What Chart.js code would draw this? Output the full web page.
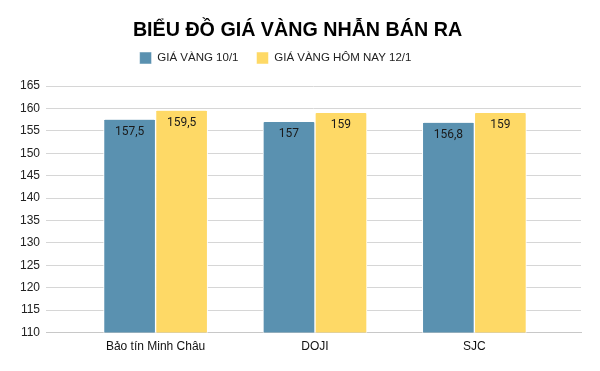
<!DOCTYPE html>
<html>
<head>
<meta charset="utf-8">
<script src="https://cdn.jsdelivr.net/npm/chart.js@4/dist/chart.umd.min.js"></script>
<style>
  html, body { margin: 0; padding: 0; background: #fff; }
  #wrap { width: 600px; height: 371px; }
</style>
</head>
<body>
<div id="wrap"><canvas id="myChart"></canvas></div>
<script>
const categories = ["Bảo tín Minh Châu", "DOJI", "SJC"];
const seriesNames = ["GIÁ VÀNG 10/1", "GIÁ VÀNG HÔM NAY 12/1"];
const price10 = [157.5, 157, 156.8];
const price12 = [159.5, 159, 159];
const yTicks = [110, 115, 120, 125, 130, 135, 140, 145, 150, 155, 160, 165];

const toPoints = (arr) => arr.map((v, i) => ({ x: i, y: v }));

// value labels inside top of each bar
const barLabels = {
  id: "barLabels",
  afterDatasetsDraw(chart) {
    const ctx = chart.ctx;
    ctx.save();
    ctx.font = "12px Roboto";
    ctx.fillStyle = "#1a1a1a";
    ctx.textAlign = "center";
    ctx.textBaseline = "middle";
    chart.data.datasets.forEach((ds, di) => {
      chart.getDatasetMeta(di).data.forEach((bar, i) => {
        const txt = String(ds.data[i].y).replace(".", ",");
        ctx.fillText(txt, bar.x, bar.y + 12.5);
      });
    });
    ctx.restore();
  },
};

// legend in the original sits a bit left of center
const legendShift = {
  id: "legendShift",
  afterLayout(chart) {
    chart.legend.left -= 22;
    chart.legend.right -= 22;
  },
};

new Chart(document.getElementById("myChart"), {
  type: "bar",
  data: {
    datasets: [
      {
        label: seriesNames[0],
        data: toPoints(price10),
        backgroundColor: "#5a91b0",
        borderColor: "#ffffff",
        borderWidth: { left: 1, right: 1 },
        borderRadius: { topLeft: 2, topRight: 2 },
        borderSkipped: "bottom",
      },
      {
        label: seriesNames[1],
        data: toPoints(price12),
        backgroundColor: "#fed966",
        borderColor: "#ffffff",
        borderWidth: { left: 1, right: 1 },
        borderRadius: { topLeft: 2, topRight: 2 },
        borderSkipped: "bottom",
      },
    ],
  },
  options: {
    responsive: true,
    maintainAspectRatio: false,
    animation: false,
    barThickness: 52,
    layout: {
      padding: { top: 14, bottom: 10, left: 14, right: 19 },
    },
    plugins: {
      title: {
        display: true,
        text: "BIỂU ĐỒ GIÁ VÀNG NHẪN BÁN RA",
        color: "#000",
        font: { family: "Liberation Sans", size: 19.7, weight: "bold", lineHeight: 0.305 },
        padding: { top: 14, bottom: 0 },
      },
      subtitle: {
        display: true,
        text: " ",
        weight: 500,
        font: { size: 5, lineHeight: 1.2 },
        padding: { top: 0, bottom: 6 },
      },
      legend: {
        position: "top",
        labels: {
          color: "#222",
          boxWidth: 12,
          boxHeight: 12,
          padding: 18,
          font: { family: "Liberation Sans", size: 11.5 },
        },
      },
      tooltip: { enabled: false },
    },
    scales: {
      x: {
        type: "linear",
        offset: false,
        min: -0.6875,
        max: 2.669,
        grid: { display: false, drawTicks: false },
        border: { color: "#c8c8c8" },
        afterBuildTicks: (axis) => {
          axis.ticks = categories.map((c, i) => ({ value: i }));
        },
        ticks: {
          color: "#111",
          padding: 7,
          maxRotation: 0,
          font: { family: "Liberation Sans", size: 12 },
          callback: (v) => categories[v],
        },
      },
      y: {
        min: 110,
        max: 165,
        afterBuildTicks: (axis) => {
          axis.ticks = yTicks.map((v) => ({ value: v }));
        },
        grid: { color: "#d6d6d6", drawTicks: false },
        border: { display: false },
        ticks: {
          color: "#222",
          padding: 6,
          font: { family: "Liberation Sans", size: 12 },
        },
      },
    },
  },
  plugins: [barLabels, legendShift],
});
</script>
</body>
</html>
